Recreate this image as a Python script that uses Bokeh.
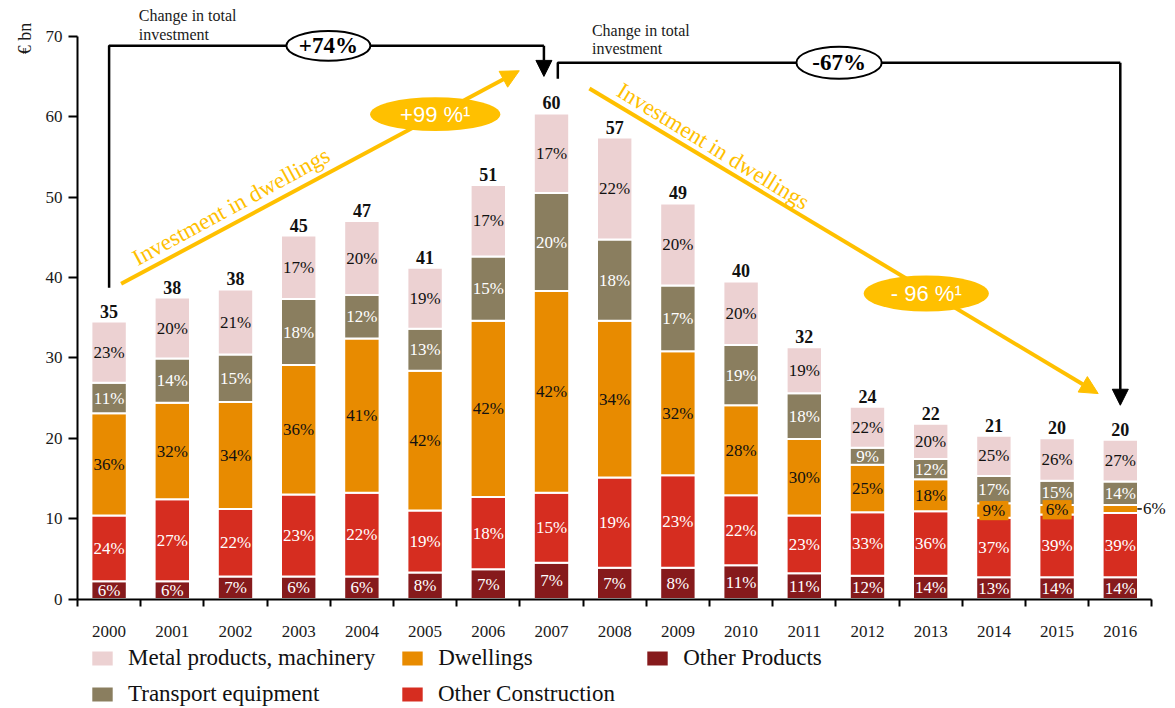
from bokeh.plotting import figure
from bokeh.models import (ColumnDataSource, FixedTicker, Arrow, NormalHead, Label,
                          Legend, LegendItem, Range1d)
from bokeh.core.properties import value
from bokeh.embed import file_html
from bokeh.resources import INLINE

# ---------------- data (EUR bn) ----------------
years = list(range(2000, 2017))
other_products = [2.2, 2.2, 2.8, 2.8, 2.8, 3.3, 3.7, 4.5, 3.9, 3.9, 4.2, 3.2, 2.9, 2.9, 2.7, 2.7, 2.7]
other_construction = [8.2, 10.2, 8.4, 10.2, 10.4, 7.7, 9.0, 8.7, 11.2, 11.5, 8.7, 7.2, 7.9, 8.0, 7.4, 7.8, 8.0]
dwellings = [12.7, 12.0, 13.3, 16.1, 19.2, 17.4, 21.9, 25.1, 19.5, 15.4, 11.2, 9.5, 5.9, 4.0, 1.8, 1.2, 1.0]
transport = [3.8, 5.5, 5.9, 8.2, 5.4, 5.2, 8.0, 12.2, 10.1, 8.2, 7.5, 5.7, 2.1, 2.5, 3.4, 3.0, 2.9]
metal = [7.6, 7.6, 8.1, 7.9, 9.2, 7.6, 8.9, 9.9, 12.7, 10.2, 7.9, 5.7, 5.1, 4.4, 5.0, 5.3, 5.2]

pct_op = [6, 6, 7, 6, 6, 8, 7, 7, 7, 8, 11, 11, 12, 14, 13, 14, 14]
pct_oc = [24, 27, 22, 23, 22, 19, 18, 15, 19, 23, 22, 23, 33, 36, 37, 39, 39]
pct_dw = [36, 32, 34, 36, 41, 42, 42, 42, 34, 32, 28, 30, 25, 18, 9, 6, 6]
pct_te = [11, 14, 15, 18, 12, 13, 15, 20, 18, 17, 19, 18, 9, 12, 17, 15, 14]
pct_mp = [23, 20, 21, 17, 20, 19, 17, 17, 22, 20, 20, 19, 22, 20, 25, 26, 27]
total_labels = [35, 38, 38, 45, 47, 41, 51, 60, 57, 49, 40, 32, 24, 22, 21, 20, 20]

y_ticks = [0, 10, 20, 30, 40, 50, 60, 70]
change_total = ["+74%", "-67%"]
change_dwell = ["+99 %\u00b9", "- 96 %\u00b9"]

# ---------------- style ----------------
SERIF = "Liberation Serif"
SANS = "Liberation Sans"
C_MP = "#ECD1D2"
C_TE = "#8A7E5F"
C_DW = "#E88B00"
C_OC = "#D62D20"
C_OP = "#861A1C"
GOLD = "#FFC000"
INK = "#111111"

n = len(years)
xs = list(range(n))
series = [other_products, other_construction, dwellings, transport, metal]
bar_top = [round(sum(v), 2) for v in zip(*series)]

# one frame covering the whole canvas; axes are pinned inside it
FW, FH = 1173, 706
PXX, PXY = 63.2, 8.04          # pixels per category / per EUR bn
AX_LEFT_PX, AX_ZERO_PX = 77, 598.5
x0 = -0.5 - AX_LEFT_PX / PXX
y1 = AX_ZERO_PX / PXY
p = figure(frame_width=FW, frame_height=FH,
           x_range=Range1d(x0, x0 + FW / PXX), y_range=Range1d(y1 - FH / PXY, y1),
           output_backend="svg", toolbar_location=None,
           min_border_left=0, min_border_right=0, min_border_top=0, min_border_bottom=0)
p.outline_line_color = None
p.xgrid.visible = False
p.ygrid.visible = False
p.background_fill_color = "white"
p.border_fill_color = "white"

# axes
xa = p.xaxis[0]
xa.fixed_location = 0
xa.ticker = FixedTicker(ticks=xs, minor_ticks=[i - 0.5 for i in range(n + 1)])
xa.major_label_overrides = {i: str(y) for i, y in zip(xs, years)}
xa.bounds = (-0.5, n - 0.5)
xa.major_tick_out = 0
xa.major_tick_in = 0
xa.minor_tick_out = 7
xa.minor_tick_in = 0
xa.minor_tick_line_color = "black"
xa.minor_tick_line_width = 2
xa.axis_line_width = 2
xa.axis_line_color = "black"
xa.major_label_text_font = SERIF
xa.major_label_text_font_size = "17px"
xa.major_label_text_color = "#1a1a1a"
xa.major_label_standoff = 20

ya = p.yaxis[0]
ya.fixed_location = -0.5
ya.ticker = FixedTicker(ticks=y_ticks)
ya.bounds = (0, 70)
ya.major_tick_out = 9
ya.major_tick_in = 0
ya.minor_tick_out = 0
ya.minor_tick_in = 0
ya.major_tick_line_width = 2
ya.major_tick_line_color = "black"
ya.axis_line_width = 2
ya.axis_line_color = "black"
ya.major_label_text_font = SERIF
ya.major_label_text_font_size = "17px"
ya.major_label_text_color = "#1a1a1a"
ya.major_label_standoff = 6

# ---------------- investment-in-dwellings arrows (behind everything) ----------------
p.add_layout(Arrow(x_start=0.19, y_start=39.2, x_end=6.49, y_end=65.7, level="underlay",
                   line_color=GOLD, line_width=4,
                   end=NormalHead(size=18, fill_color=GOLD, line_color=GOLD)))
p.add_layout(Arrow(x_start=7.6, y_start=63.5, x_end=15.65, y_end=25.55, level="underlay",
                   line_color=GOLD, line_width=4,
                   end=NormalHead(size=18, fill_color=GOLD, line_color=GOLD)))

# ---------------- bars ----------------
src = ColumnDataSource(dict(x=xs, op=other_products, oc=other_construction, dw=dwellings,
                            te=transport, mp=metal))
rs = p.vbar_stack(["op", "oc", "dw", "te", "mp"], x="x", width=0.56, source=src,
                  color=[C_OP, C_OC, C_DW, C_TE, C_MP], line_color="white", line_width=2)
r_op, r_oc, r_dw, r_te, r_mp = rs

# ---------------- segment labels ----------------
pcts = [pct_op, pct_oc, pct_dw, pct_te, pct_mp]
tcols = ["white", "white", INK, "white", INK]
lx, ly, lt, lc = [], [], [], []
boxed_x, boxed_y, boxed_t = [], [], []
out_x, out_y, out_t = [], [], []
for s in range(5):
    for i in range(n):
        base = sum(series[k][i] for k in range(s))
        mid = base + series[s][i] / 2
        txt = f"{pcts[s][i]}%"
        if s == 2 and series[s][i] < 1.1:
            out_x.append(i); out_y.append(mid); out_t.append(txt)
        elif s == 2 and series[s][i] < 2.0:
            boxed_x.append(i); boxed_y.append(mid); boxed_t.append(txt)
        else:
            lx.append(i); ly.append(mid); lt.append(txt); lc.append(tcols[s])

p.text(x=lx, y=ly, text=lt, text_color=lc, text_font=value(SERIF), text_font_size="17px",
       text_align="center", text_baseline="middle")
p.rect(x=boxed_x, y=boxed_y, width=0.46, height=2.4, fill_color=C_DW, line_color=None)
p.text(x=boxed_x, y=boxed_y, text=boxed_t, text_color=INK, text_font=value(SERIF),
       text_font_size="17px", text_align="center", text_baseline="middle")
p.segment(x0=[x + 0.27 for x in out_x], y0=out_y, x1=[x + 0.34 for x in out_x], y1=out_y,
          line_color="black", line_width=1.5)
p.text(x=[x + 0.36 for x in out_x], y=out_y, text=out_t, text_color=INK, text_font=value(SERIF),
       text_font_size="17px", text_align="left", text_baseline="middle")

# totals
p.text(x=xs, y=bar_top, text=[str(t) for t in total_labels], text_color=INK,
       text_font=value(SERIF), text_font_size="18px", text_font_style="bold",
       text_align="center", text_baseline="bottom", y_offset=-4)

# ---------------- change-in-total brackets ----------------
i0, i1, i2 = 0, years.index(2007), n - 1
yb1 = 68.8
yb2 = 66.7
p.line(x=[i0, i0, i1 - 0.12], y=[bar_top[i0] + 4.2, yb1, yb1], line_color="black", line_width=2.5)
p.add_layout(Arrow(x_start=i1 - 0.12, y_start=yb1, x_end=i1 - 0.12, y_end=bar_top[i1] + 4.6,
                   line_color="black", line_width=2.5,
                   end=NormalHead(size=16, fill_color="black", line_color="black")))
p.line(x=[i1 + 0.1, i1 + 0.1, i2], y=[bar_top[i1] + 4.3, yb2, yb2], line_color="black", line_width=2.5)
p.add_layout(Arrow(x_start=i2, y_start=yb2, x_end=i2, y_end=bar_top[i2] + 4.3,
                   line_color="black", line_width=2.5,
                   end=NormalHead(size=16, fill_color="black", line_color="black")))
p.ellipse(x=[3.47, 11.55], y=[yb1, yb2], width=[1.33, 1.35], height=[3.7, 4.0],
          fill_color="white", line_color="black", line_width=2)
p.text(x=[3.47, 11.55], y=[yb1, yb2], text=change_total, text_color="black",
       text_font=value(SERIF), text_font_size="23px", text_font_style="bold",
       text_align="center", text_baseline="middle")
p.text(x=[0.47, 7.64], y=[73.6, 71.8], text=["Change in total\ninvestment"] * 2,
       text_color="#1a1a1a", text_font=value(SERIF), text_font_size="16px",
       text_align="left", text_baseline="top", text_line_height=1.1)

# dwellings change bubbles and captions
p.ellipse(x=[5.16, 12.93], y=[60.3, 38.0], width=[2.06, 1.98], height=[4.2, 4.5],
          fill_color=GOLD, line_color=None)
p.text(x=[5.16, 12.93], y=[60.3, 38.0], text=change_dwell, text_color="white",
       text_font=value(SANS), text_font_size="22px", text_align="center", text_baseline="middle")
p.text(x=[1.93, 9.56], y=[48.8, 56.3], text=["Investment in dwellings"] * 2,
       angle=[0.50, -0.55], text_color=GOLD, text_font=value(SERIF), text_font_size="23px",
       text_align="center", text_baseline="middle")

# y-axis unit
p.add_layout(Label(x=-1.33, y=69.7, text="\u20ac bn", angle=1.5708, text_align="center",
                   text_baseline="middle", text_font=SERIF, text_font_size="18px",
                   text_color="#1a1a1a"))

# ---------------- legends (two rows, inside the frame below the axis) ----------------
def make_legend(items, lw, loc):
    return Legend(items=items, orientation="horizontal", location=loc,
                  label_text_font=SERIF, label_text_font_size="23px", label_text_color=INK,
                  glyph_width=28, glyph_height=20, label_standoff=12, spacing=23,
                  padding=0, margin=0, border_line_color=None, background_fill_alpha=0,
                  label_width=lw, label_height=20)

leg1 = make_legend([LegendItem(label="Metal products, machinery", renderers=[r_mp]),
                    LegendItem(label="Dwellings", renderers=[r_dw]),
                    LegendItem(label="Other Products", renderers=[r_op])], 182, (88, 35))
leg2 = make_legend([LegendItem(label="Transport equipment", renderers=[r_te]),
                    LegendItem(label="Other Construction", renderers=[r_oc])], 247, (88, -1))
p.add_layout(leg1)
p.add_layout(leg2)

open("out.html", "w").write(file_html(p, INLINE))
